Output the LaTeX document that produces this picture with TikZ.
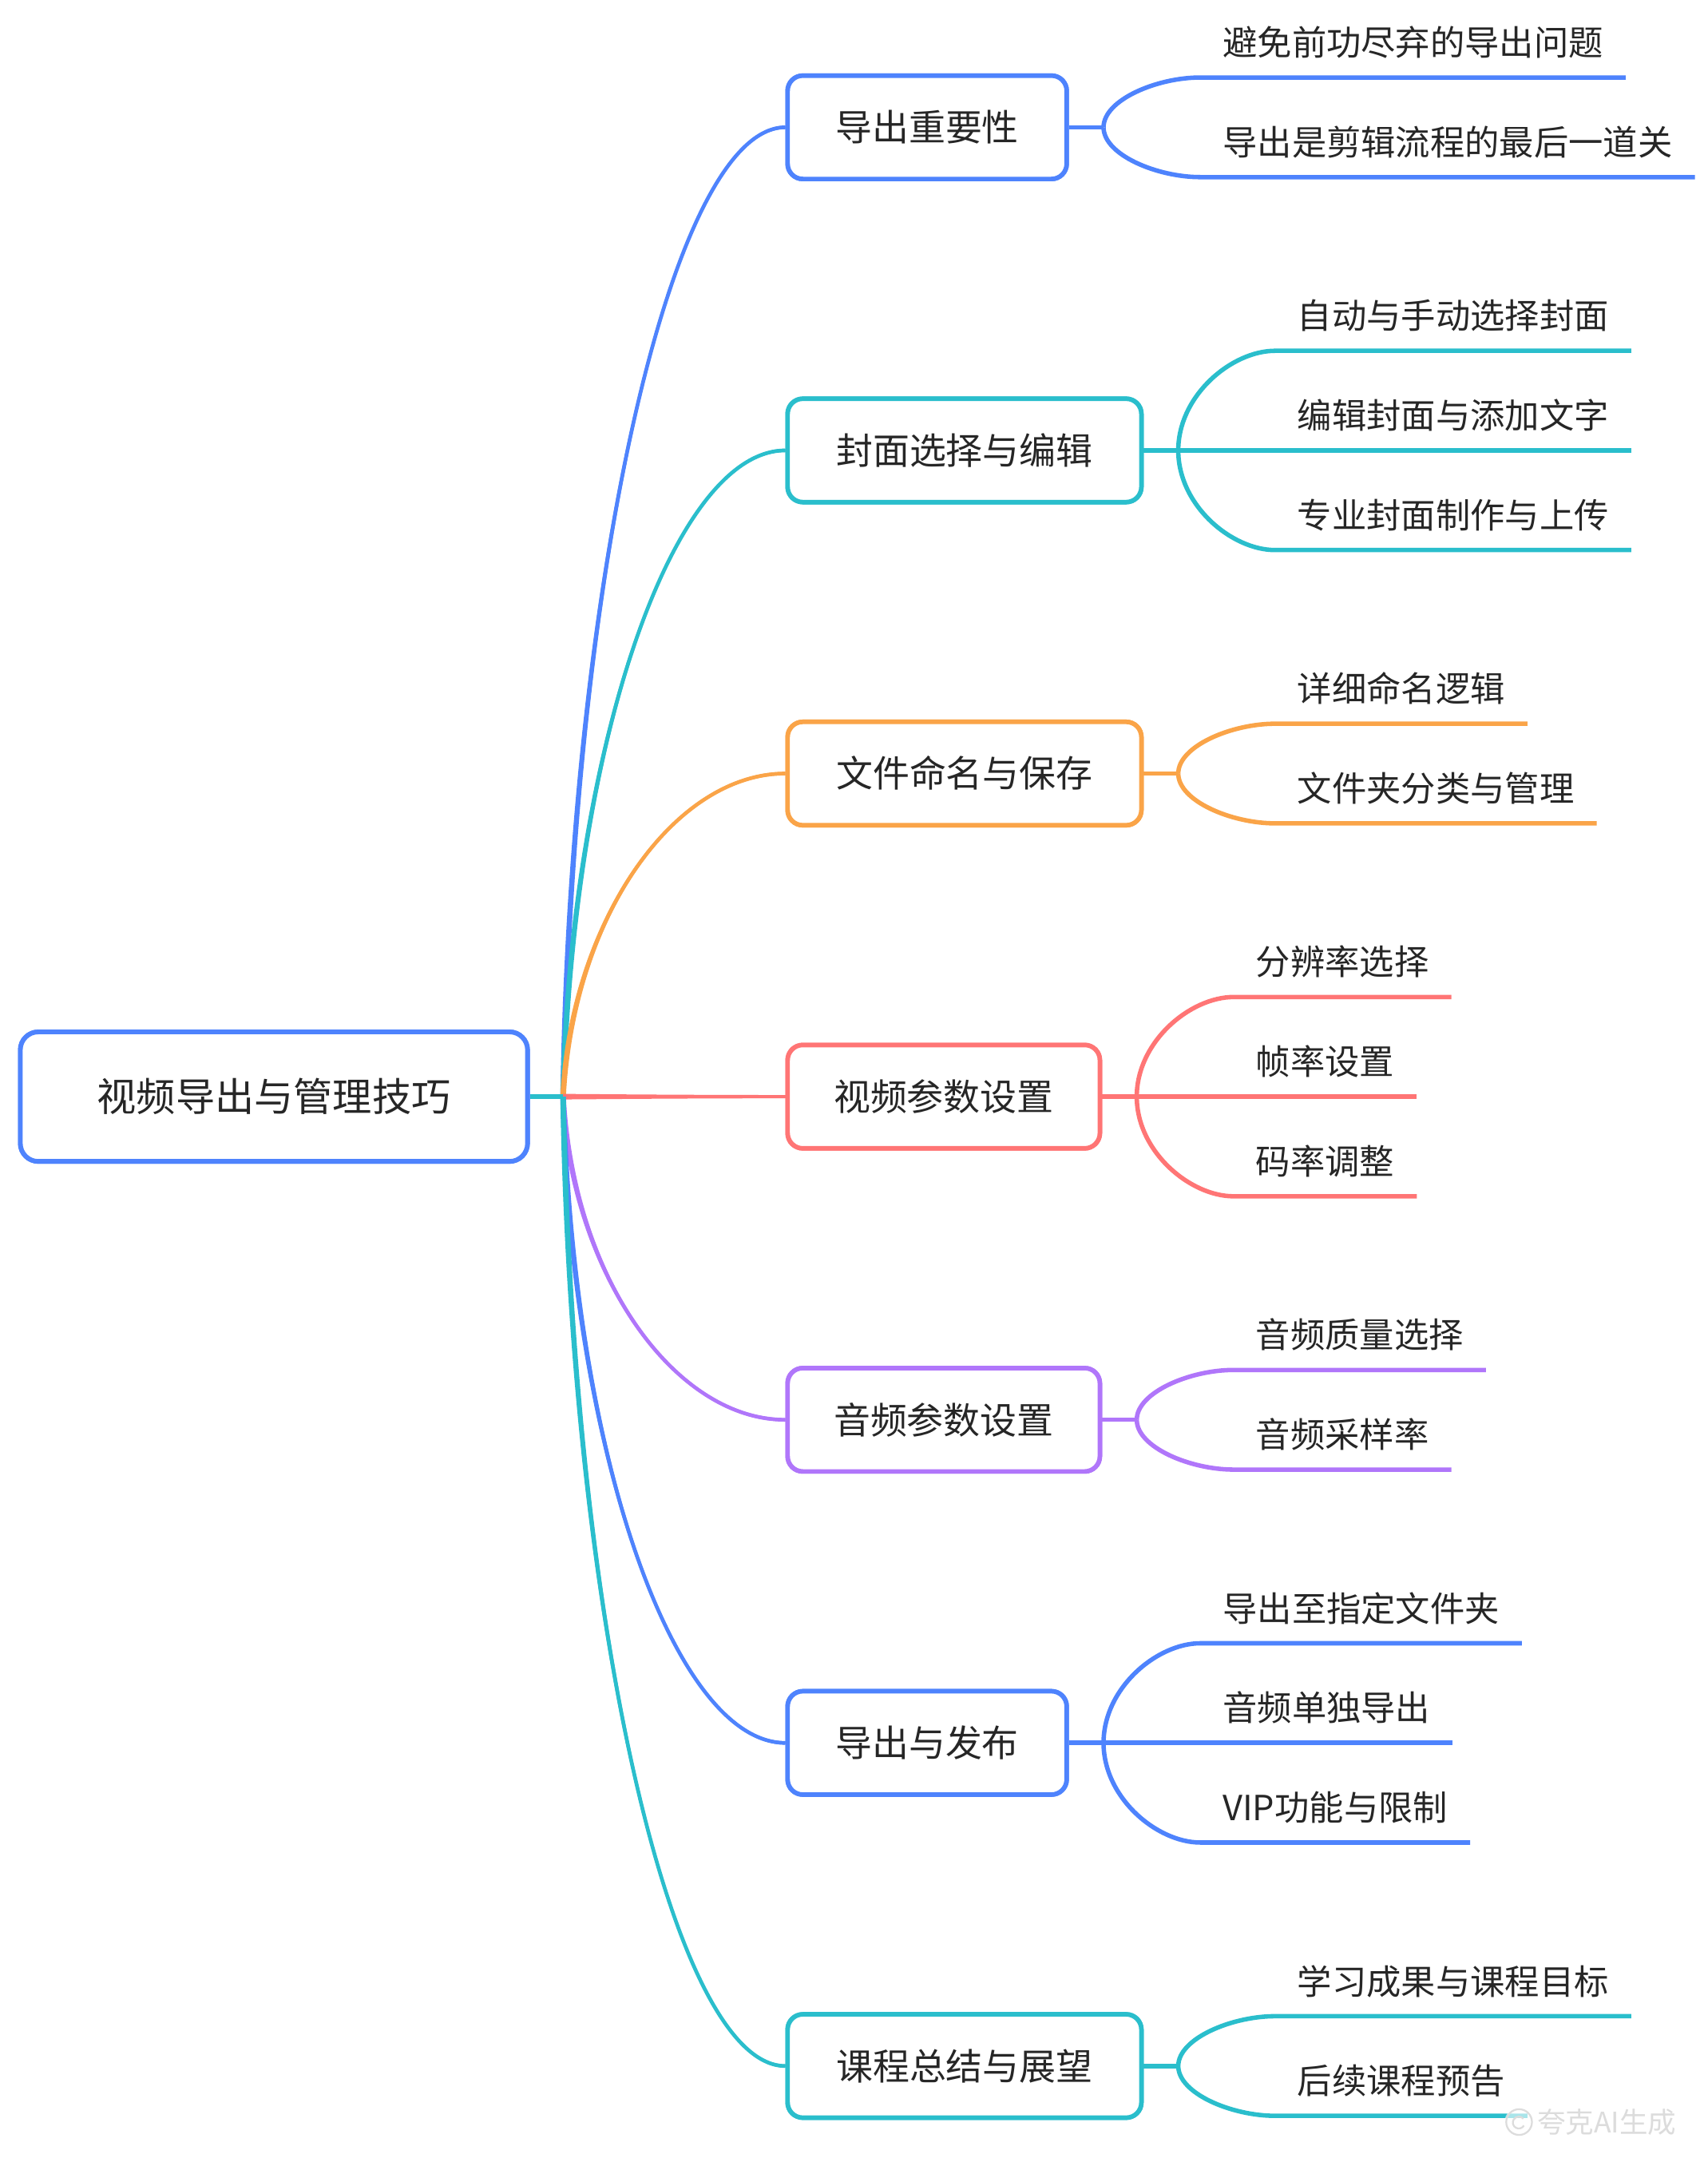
\documentclass[tikz,border=0pt]{standalone}
\usepackage{fontspec}
\newfontfamily\cjk{Noto Sans CJK SC}
\usetikzlibrary{calc}
\definecolor{cblue}{HTML}{4E83FD}
\definecolor{cteal}{HTML}{2ABECC}
\definecolor{corange}{HTML}{FAA448}
\definecolor{cred}{HTML}{FF7575}
\definecolor{cpurple}{HTML}{B076FA}
\definecolor{ctext}{HTML}{262626}
\definecolor{cmark}{HTML}{DCDCDC}

\newcommand\bA{0.04}
\newcommand\bB{0.55}
\newcommand\bC{0.5}
\newcommand\wS{2.0}
\newcommand\wE{1.2}

% tapered main branch from the hub to the west side of a topic box
\newcommand\mainbranch[2]{%
  \fill[#1] let \p1=(hub), \p2=(#2.west),
     \n1={\x2-\x1}, \n2={\y2-\y1},
     \n3={max(veclen(\bA*\n1,\bB*\n2),0.01)},
     \n4={-\wS*\bB*\n2/\n3}, \n5={\wS*\bA*\n1/\n3}
   in ({\x1+\n4},{\y1+\n5})
     .. controls ({\x1+\bA*\n1+\n4},{\y1+\bB*\n2+\n5}) and ({\x2-\bC*\n1},{\y2+\wE pt}) .. ({\x2},{\y2+\wE pt})
     -- ({\x2},{\y2-\wE pt})
     .. controls ({\x2-\bC*\n1},{\y2-\wE pt}) and ({\x1+\bA*\n1-\n4},{\y1+\bB*\n2-\n5}) .. ({\x1-\n4},{\y1-\n5})
     -- cycle;
  \draw[#1, line width=2.7pt] let \p1=(hub), \p2=(#2.west),
     \n1={\x2-\x1}, \n2={\y2-\y1}
   in (\p1) .. controls ({\x1+\bA*\n1},{\y1+\bB*\n2}) and ({\x2-\bC*\n1},\y2) .. (\p2);
}
% curved leaf connector with underline
\newcommand\leafcurve[3]{%
  \draw[leafline=#1] let \p1=(#2), \p2=(#3.south west) in (\p1)
    .. controls (\x1,{\y1+0.552*(\y2-\y1)}) and ({\x2-0.448*(\x2-\x1)},\y2) .. (\p2) -- (#3.south east);
}
% straight leaf connector with underline
\newcommand\leafstraight[3]{%
  \draw[leafline=#1] (#2) -- (#3.south west) -- (#3.south east);
}

\tikzset{
  rootbox/.style={draw=cblue, line width=3.4pt, rounded corners=13pt, fill=white,
    font=\cjk\fontsize{28.4}{34}\selectfont, text=ctext, inner sep=0pt,
    minimum width=366.6pt, minimum height=93.6pt, text height=25pt, text depth=3.4pt},
  topicbox/.style={draw=#1, line width=3.3pt, rounded corners=11pt, fill=white,
    font=\cjk\fontsize{26.5}{32}\selectfont, text=ctext, inner sep=0pt, anchor=west,
    minimum height=74.7pt, text height=23.3pt, text depth=3.2pt},
  leaf/.style={anchor=south west, inner xsep=16pt, inner ysep=12.6pt,
    font=\cjk\fontsize{25}{30}\selectfont, text=ctext, text height=22pt, text depth=3pt},
  leafline/.style={draw=#1, line width=3.2pt, line join=round},
  stub/.style={draw=#1, line width=3.2pt},
}

\begin{document}
\begin{tikzpicture}[x=1pt,y=-1pt]
\useasboundingbox (0,0) rectangle (1234,1568.16);
\fill[white] (0,0) rectangle (1234,1568.16);

% nodes
\node[rootbox] (root) at (198,792.5) {视频导出与管理技巧};
\coordinate (hub) at (407,792.5);

\node[topicbox=cblue,   minimum width=201.7pt] (n1) at (567.65,92)     {导出重要性};
\node[topicbox=cteal,   minimum width=255.7pt] (n2) at (567.65,325.5)  {封面选择与编辑};
\node[topicbox=corange, minimum width=255.7pt] (n3) at (567.65,559)    {文件命名与保存};
\node[topicbox=cred,    minimum width=225.7pt] (n4) at (567.65,792.5)  {视频参数设置};
\node[topicbox=cpurple, minimum width=225.7pt] (n5) at (567.65,1026)   {音频参数设置};
\node[topicbox=cblue,   minimum width=201.7pt] (n6) at (567.65,1259.5) {导出与发布};
\node[topicbox=cteal,   minimum width=255.7pt] (n7) at (567.65,1493)   {课程总结与展望};

\foreach \i in {1,...,7} { \coordinate (h\i) at ($(n\i.east)+(25,0)$); }

\node[leaf] (l1a) at ($(h1)+(70,-36)$) {避免前功尽弃的导出问题};
\node[leaf] (l1b) at ($(h1)+(70,36)$)  {导出是剪辑流程的最后一道关};
\node[leaf] (l2a) at ($(h2)+(70,-72)$) {自动与手动选择封面};
\node[leaf] (l2b) at ($(h2)+(70,0)$)   {编辑封面与添加文字};
\node[leaf] (l2c) at ($(h2)+(70,72)$)  {专业封面制作与上传};
\node[leaf] (l3a) at ($(h3)+(70,-36)$) {详细命名逻辑};
\node[leaf] (l3b) at ($(h3)+(70,36)$)  {文件夹分类与管理};
\node[leaf] (l4a) at ($(h4)+(70,-72)$) {分辨率选择};
\node[leaf] (l4b) at ($(h4)+(70,0)$)   {帧率设置};
\node[leaf] (l4c) at ($(h4)+(70,72)$)  {码率调整};
\node[leaf] (l5a) at ($(h5)+(70,-36)$) {音频质量选择};
\node[leaf] (l5b) at ($(h5)+(70,36)$)  {音频采样率};
\node[leaf] (l6a) at ($(h6)+(70,-72)$) {导出至指定文件夹};
\node[leaf] (l6b) at ($(h6)+(70,0)$)   {音频单独导出};
\node[leaf] (l6c) at ($(h6)+(70,72)$)  {VIP功能与限制};
\node[leaf] (l7a) at ($(h7)+(70,-36)$) {学习成果与课程目标};
\node[leaf] (l7b) at ($(h7)+(70,36)$)  {后续课程预告};

% connectors
\mainbranch{cblue}{n1}
\mainbranch{cteal}{n2}
\mainbranch{corange}{n3}
\mainbranch{cred}{n4}
\mainbranch{cpurple}{n5}
\mainbranch{cblue}{n6}
\mainbranch{cteal}{n7}
\draw[stub=cteal] (root.east) -- (hub);

\draw[stub=cblue] (n1.east) -- (h1);
\leafcurve{cblue}{h1}{l1a}
\leafcurve{cblue}{h1}{l1b}

\draw[stub=cteal] (n2.east) -- (h2);
\leafcurve{cteal}{h2}{l2a}
\leafstraight{cteal}{h2}{l2b}
\leafcurve{cteal}{h2}{l2c}

\draw[stub=corange] (n3.east) -- (h3);
\leafcurve{corange}{h3}{l3a}
\leafcurve{corange}{h3}{l3b}

\draw[stub=cred] (n4.east) -- (h4);
\leafcurve{cred}{h4}{l4a}
\leafstraight{cred}{h4}{l4b}
\leafcurve{cred}{h4}{l4c}

\draw[stub=cpurple] (n5.east) -- (h5);
\leafcurve{cpurple}{h5}{l5a}
\leafcurve{cpurple}{h5}{l5b}

\draw[stub=cblue] (n6.east) -- (h6);
\leafcurve{cblue}{h6}{l6a}
\leafstraight{cblue}{h6}{l6b}
\leafcurve{cblue}{h6}{l6c}

\draw[stub=cteal] (n7.east) -- (h7);
\leafcurve{cteal}{h7}{l7a}
\leafcurve{cteal}{h7}{l7b}

% redraw boxes on top of the branch ends
\node[rootbox] at (root) {视频导出与管理技巧};
\node[topicbox=cblue,   minimum width=201.7pt] at (n1.west) {导出重要性};
\node[topicbox=cteal,   minimum width=255.7pt] at (n2.west) {封面选择与编辑};
\node[topicbox=corange, minimum width=255.7pt] at (n3.west) {文件命名与保存};
\node[topicbox=cred,    minimum width=225.7pt] at (n4.west) {视频参数设置};
\node[topicbox=cpurple, minimum width=225.7pt] at (n5.west) {音频参数设置};
\node[topicbox=cblue,   minimum width=201.7pt] at (n6.west) {导出与发布};
\node[topicbox=cteal,   minimum width=255.7pt] at (n7.west) {课程总结与展望};

% watermark
\coordinate (logo) at (1098,1533.5);
\fill[white,opacity=0.6] (logo) circle (10.5);
\draw[cmark, line width=1.3pt] (logo) circle (9.3);
\draw[cmark, line width=1.3pt] ($(logo)+(3.5,2.5)$) arc (30:320:4.3);
\node[anchor=west, inner sep=0pt, text=cmark, font=\cjk\fontsize{20.5}{24}\selectfont] (wm) at (1111,1533.5) {夸克AI生成};
\end{tikzpicture}
\end{document}
